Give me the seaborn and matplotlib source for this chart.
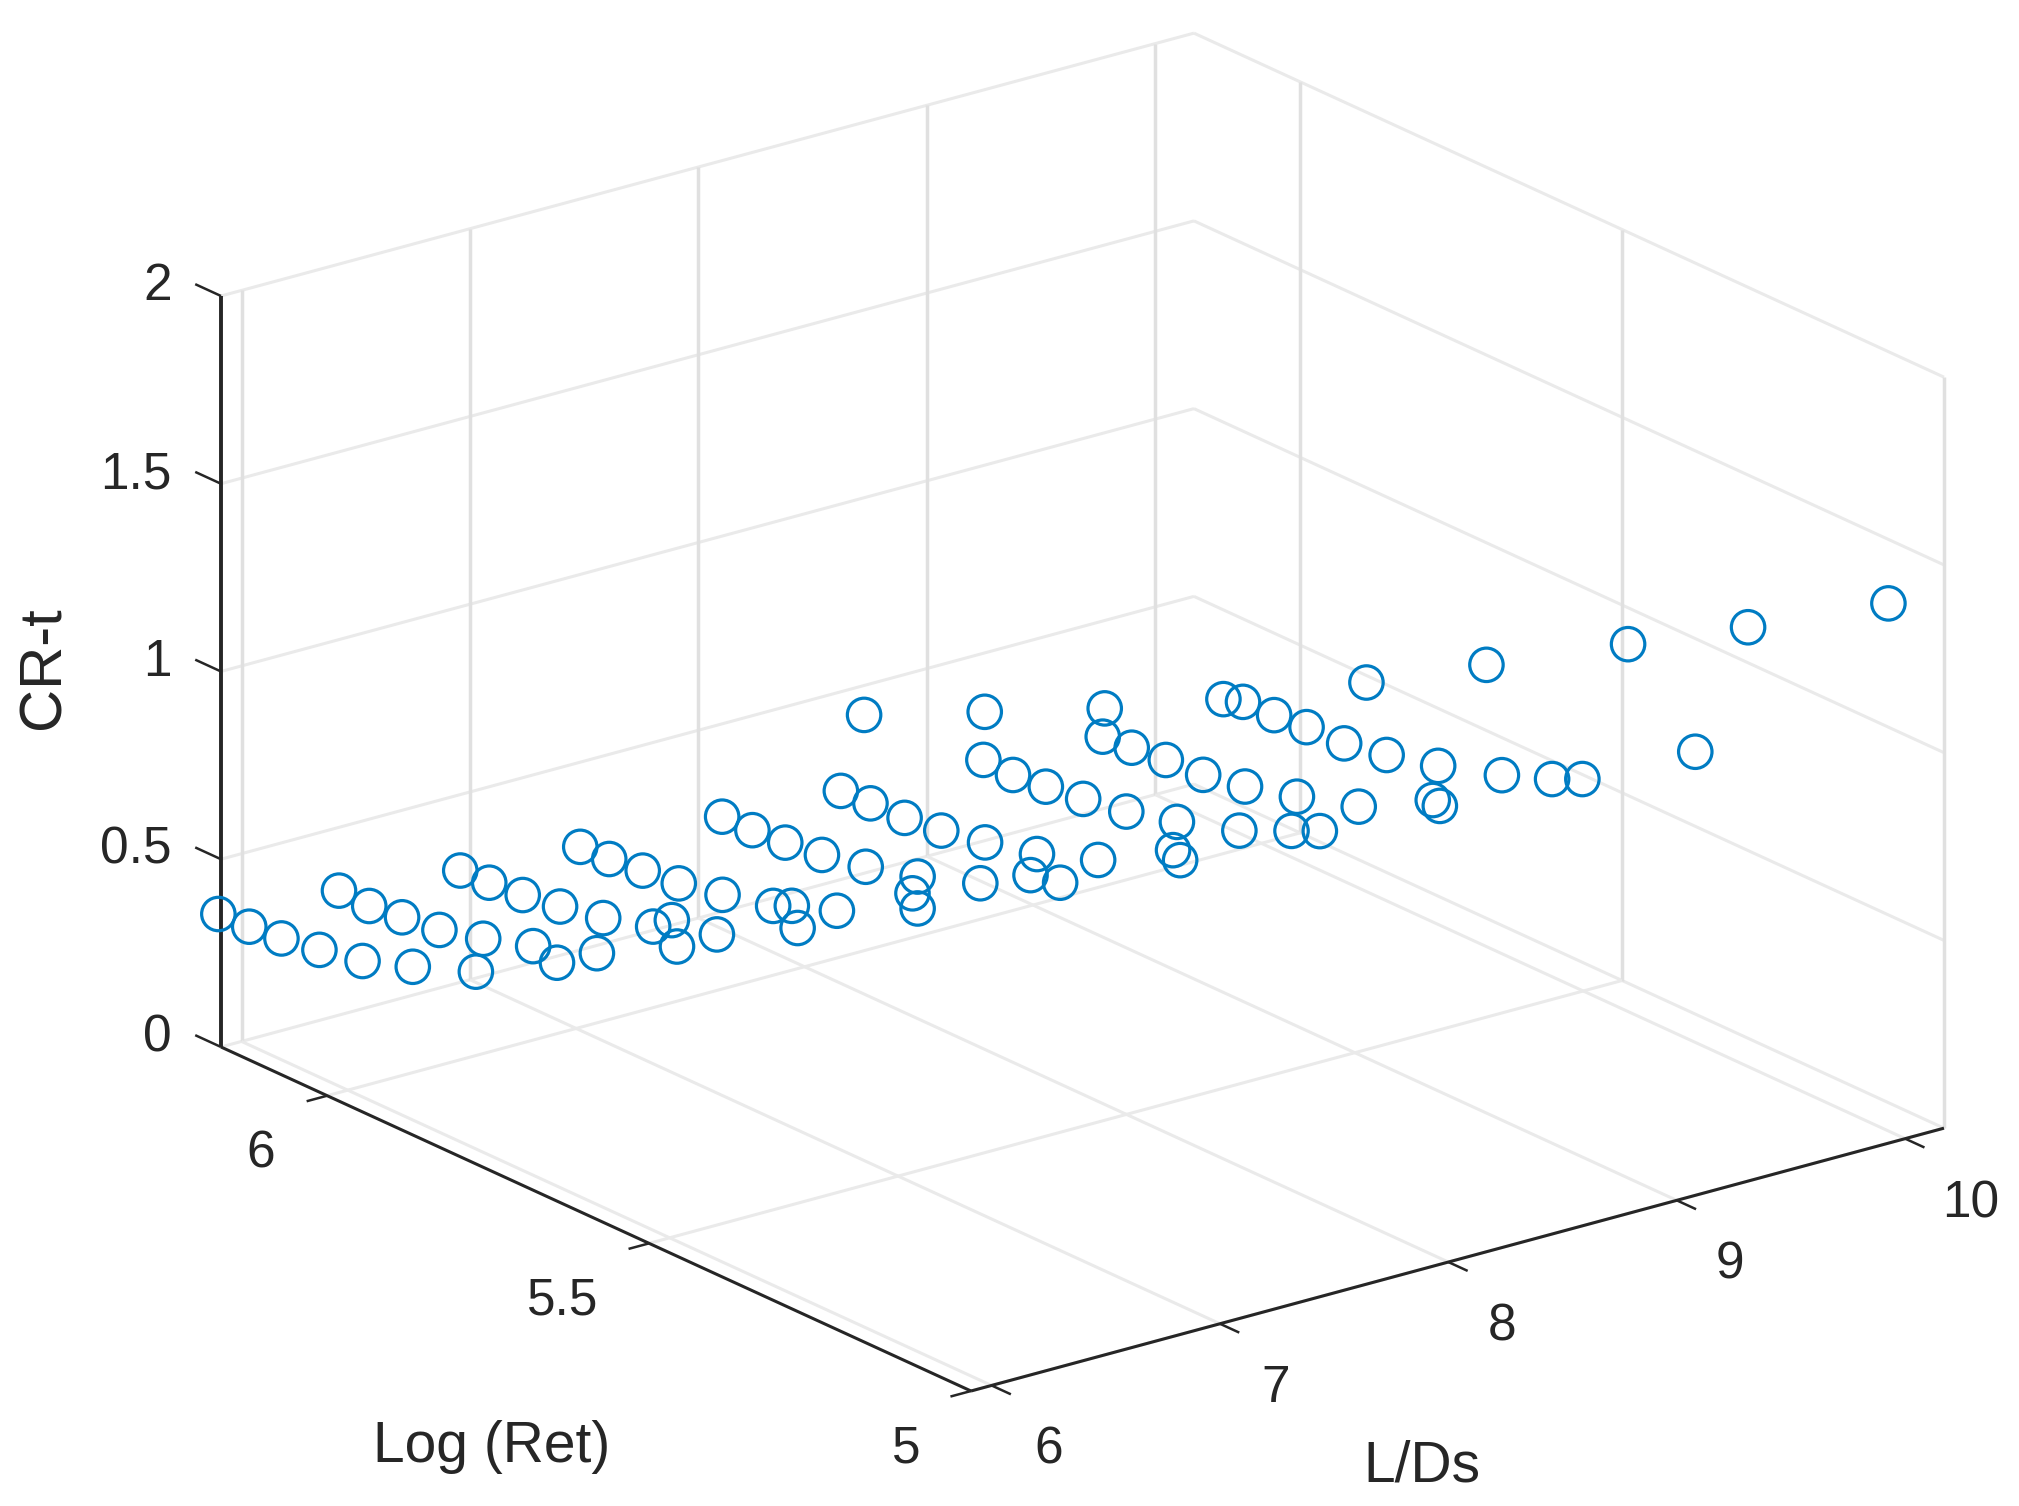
import pandas as pd
import matplotlib
matplotlib.use('Agg')
import matplotlib.pyplot as plt
import seaborn as sns

# values, one pair of lists per L/Ds
ret_6 = [6.201, 6.153, 6.103, 6.044, 5.977, 5.899, 5.801, 5.712, 5.675, 5.613, 5.198]
crt_6 = [0.311, 0.315, 0.323, 0.339, 0.362, 0.408, 0.472, 0.61, 0.595, 0.669, 1.63]
ret_65 = [6.191, 6.144, 6.093, 6.035, 5.967, 5.703, 5.674, 5.666, 5.604, 5.188]
crt_65 = [0.299, 0.295, 0.305, 0.317, 0.347, 0.587, 0.627, 0.563, 0.644, 1.564]
ret_7 = [6.18, 6.135, 6.083, 6.025, 5.958, 5.694, 5.665, 5.656, 5.595, 5.179]
crt_7 = [0.279, 0.282, 0.29, 0.305, 0.327, 0.567, 0.59, 0.538, 0.632, 1.498]
ret_75 = [6.171, 6.126, 6.074, 6.018, 5.95, 5.655, 5.647, 5.647, 5.172]
crt_75 = [0.267, 0.27, 0.28, 0.29, 0.313, 0.549, 0.6, 0.515, 1.446]
ret_8 = [6.128, 6.081, 6.03, 5.973, 5.905, 5.727, 5.639, 5.649, 5.603, 5.544, 5.319]
crt_8 = [0.299, 0.3, 0.307, 0.319, 0.341, 0.437, 0.584, 0.52, 0.536, 0.643, 1.241]
ret_85 = [6.121, 6.075, 6.022, 5.965, 5.897, 5.599, 5.605, 5.594, 5.502, 5.421, 5.377, 5.448]
crt_85 = [0.291, 0.294, 0.297, 0.308, 0.33, 0.619, 0.539, 0.521, 0.672, 0.735, 0.769, 1.022]
ret_9 = [6.077, 6.031, 5.98, 5.922, 5.855, 5.59, 5.494, 5.379, 5.368, 5.575, 5.482]
crt_9 = [0.326, 0.322, 0.331, 0.344, 0.363, 0.611, 0.66, 0.768, 0.761, 0.808, 1.0]
ret_95 = [6.069, 6.024, 5.971, 5.913, 5.848, 5.694, 5.628, 5.548, 5.449, 5.371, 5.324, 5.473, 5.253]
crt_95 = [0.312, 0.318, 0.327, 0.333, 0.353, 0.589, 0.61, 0.644, 0.697, 0.748, 0.785, 0.972, 1.2]
ret_10 = [5.326, 5.244, 5.026]
crt_10 = [0.774, 1.17, 1.405]

ld_ticks = [6, 7, 8, 9, 10]
ret_ticks = [5, 5.5, 6]
crt_ticks = [0, 0.5, 1, 1.5, 2]
ret_tick_labels = ['5', '5.5', '6']
crt_tick_labels = ['0', '0.5', '1', '1.5', '2']

LD_MIN, LD_MAX = 5.91, 10.17
RET_MIN, RET_MAX = 5, 6.165
CRT_MIN, CRT_MAX = 0, 2

BLUE = '#007CC3'
GRID = '#E0E0E0'
GRID_SOFT = '#EAEAEA'
DARK = '#262626'


# matlab style view, turns (L/Ds, Log Ret, CR-t) into picture pixels
def project(ld, ret, crt):
    x = 971 + 228.4 * (ld - LD_MIN) - 643.8 * (ret - RET_MIN)
    y = 1391 - 61.7 * (ld - LD_MIN) - 295.3 * (ret - RET_MIN) - 375.5 * crt
    return x, y


def line3d(ax, a, b, **kw):
    x0, y0 = project(*a)
    x1, y1 = project(*b)
    ax.plot([x0, x1], [y0, y1], solid_capstyle='butt', **kw)


parts = []
for ld, ret, crt in [(6, ret_6, crt_6), (6.5, ret_65, crt_65), (7, ret_7, crt_7),
                     (7.5, ret_75, crt_75), (8, ret_8, crt_8), (8.5, ret_85, crt_85),
                     (9, ret_9, crt_9), (9.5, ret_95, crt_95), (10, ret_10, crt_10)]:
    parts.append(pd.DataFrame({'ld': ld, 'ret': ret, 'crt': crt}))
df = pd.concat(parts, ignore_index=True)
df['px'], df['py'] = project(df['ld'], df['ret'], df['crt'])

sns.set_theme(style='white')
plt.rcParams['font.family'] = ['Liberation Sans', 'DejaVu Sans']

fig = plt.figure(figsize=(20.19, 15.06), dpi=100)
ax = fig.add_axes([0, 0, 1, 1])
ax.set_xlim(0, 2019)
ax.set_ylim(1506, 0)
ax.axis('off')

soft_kw = dict(color=GRID_SOFT, lw=2.2, zorder=1)
vert_kw = dict(color=GRID, lw=2.5, zorder=1)

# back walls
for t in crt_ticks:
    line3d(ax, (LD_MIN, RET_MAX, t), (LD_MAX, RET_MAX, t), **soft_kw)
    line3d(ax, (LD_MAX, RET_MAX, t), (LD_MAX, RET_MIN, t), **soft_kw)
for t in ld_ticks:
    line3d(ax, (t, RET_MAX, CRT_MIN), (t, RET_MAX, CRT_MAX), **vert_kw)
    line3d(ax, (t, RET_MIN, CRT_MIN), (t, RET_MAX, CRT_MIN), **soft_kw)
for t in ret_ticks:
    line3d(ax, (LD_MAX, t, CRT_MIN), (LD_MAX, t, CRT_MAX), **vert_kw)
    line3d(ax, (LD_MIN, t, CRT_MIN), (LD_MAX, t, CRT_MIN), **soft_kw)

# dark axis lines
axis_kw = dict(color=DARK, zorder=2)
line3d(ax, (LD_MIN, RET_MAX, CRT_MIN), (LD_MIN, RET_MAX, CRT_MAX), lw=2.8, **axis_kw)
line3d(ax, (LD_MIN, RET_MIN, CRT_MIN), (LD_MIN, RET_MAX, CRT_MIN), lw=2.2, **axis_kw)
line3d(ax, (LD_MIN, RET_MIN, CRT_MIN), (LD_MAX, RET_MIN, CRT_MIN), lw=2.2, **axis_kw)

# ticks stick out of the box along the other axis
tick_kw = dict(color=DARK, lw=1.8, zorder=2)
for t in crt_ticks:
    line3d(ax, (LD_MIN, RET_MAX, t), (LD_MIN, RET_MAX + 0.04, t), **tick_kw)
for t in ret_ticks:
    line3d(ax, (LD_MIN, t, CRT_MIN), (LD_MIN - 0.09, t, CRT_MIN), **tick_kw)
for t in ld_ticks:
    line3d(ax, (t, RET_MIN, CRT_MIN), (t, RET_MIN - 0.03, CRT_MIN), **tick_kw)

sns.scatterplot(data=df, x='px', y='py', ax=ax, marker='o', s=580, color=BLUE,
                facecolor='none', edgecolor=BLUE, linewidth=2.3, clip_on=False,
                legend=False, zorder=3)
ax.set_xlabel('')
ax.set_ylabel('')

tick_fs = 37
label_fs = 41
for t, lab in zip(crt_ticks, crt_tick_labels):
    y = project(LD_MIN, RET_MAX, t)[1]
    ax.text(172, y - 9, lab, fontsize=tick_fs, color=DARK, ha='right', va='center')
ret_dx = [-65, -86, -67]
for t, lab, dx in zip(ret_ticks, ret_tick_labels, ret_dx):
    x, y = project(LD_MIN, t, CRT_MIN)
    ax.text(x + dx, y + 58, lab, fontsize=tick_fs, color=DARK, ha='center', va='center')
ld_dx = [57, 56, 54, 53, 66]
for t, dx in zip(ld_ticks, ld_dx):
    x, y = project(t, RET_MIN, CRT_MIN)
    ax.text(x + dx, y + 65, str(t), fontsize=tick_fs, color=DARK, ha='center', va='center')

ax.text(492, 1447, 'Log (Ret)', fontsize=label_fs, color=DARK, ha='center', va='center')
ax.text(1422, 1466, 'L/Ds', fontsize=label_fs, color=DARK, ha='center', va='center')
ax.text(44, 668, 'CR-t', fontsize=label_fs + 2, color=DARK, ha='center', va='center', rotation=90)

fig.savefig('out.png', dpi=100)
